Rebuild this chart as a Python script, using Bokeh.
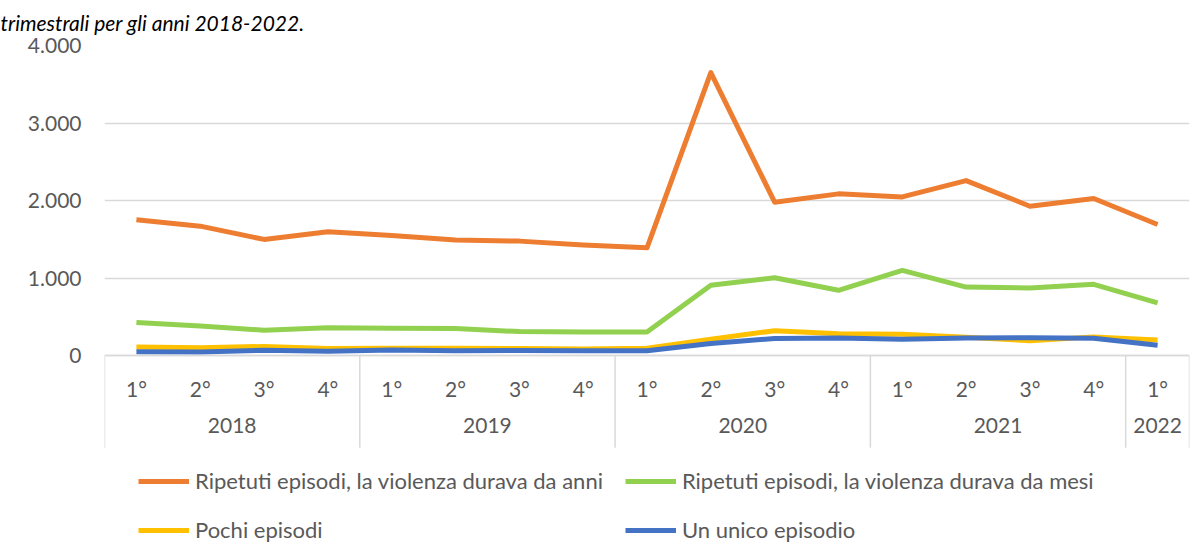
from bokeh.plotting import figure
from bokeh.models import (FactorRange, Range1d, FixedTicker, Legend, LegendItem,
                          CategoricalAxis, ColumnDataSource)
from bokeh.embed import file_html
from bokeh.resources import INLINE

# ---------------- data ----------------
years = ["2018", "2019", "2020", "2021", "2022"]
quarters_per_year = [4, 4, 4, 4, 1]
quarter_labels = ["1°", "2°", "3°", "4°"]

anni = [1753, 1672, 1501, 1599, 1552, 1492, 1479, 1428, 1393,
        3650, 1981, 2088, 2049, 2259, 1929, 2028, 1693]
mesi = [429, 386, 330, 364, 356, 352, 313, 309, 309,
        909, 1007, 845, 1102, 887, 875, 922, 682]
pochi = [115, 105, 122, 95, 100, 100, 95, 90, 100,
         215, 325, 285, 279, 240, 195, 245, 206]
unico = [52, 50, 73, 60, 75, 65, 70, 65, 65,
         160, 225, 232, 214, 230, 235, 228, 137]

series_names = ["Ripetuti episodi, la violenza durava da anni",
                "Ripetuti episodi, la violenza durava da mesi",
                "Pochi episodi",
                "Un unico episodio"]
series_values = [anni, mesi, pochi, unico]
series_colors = ["#ED7D31", "#92D050", "#FFC000", "#4472C4"]

y_ticks = [0, 1000, 2000, 3000, 4000]
y_tick_labels = ["0", "1.000", "2.000", "3.000", "4.000"]

title_text = "trimestrali per gli anni 2018-2022."

# ---------------- build ----------------
FONT = "Lato"
TXT = "#595959"
GRID = "#D9D9D9"
FS = "21px"
Y_BOTTOM = -2508      # frame reaches the canvas bottom (legend lives inside it)
SEP_END = -1183       # where the year separators stop

factors = [(y, quarter_labels[i]) for y, n in zip(years, quarters_per_year) for i in range(n)]

x_range = FactorRange(*factors, factor_padding=0, group_padding=0, range_padding=0)
p = figure(width=1200, height=550, x_range=x_range, y_range=Range1d(Y_BOTTOM, 4000),
           output_backend="svg", toolbar_location=None, x_axis_location=None,
           min_border_left=104, min_border_right=11, min_border_top=44, min_border_bottom=0)
p.outline_line_color = None
p.background_fill_color = "white"
p.border_fill_color = "white"
for g in p.xgrid:
    g.visible = False

# caption
p.title.text = title_text
p.title.text_font = FONT
p.title.text_font_size = FS
p.title.text_font_style = "italic"
p.title.text_color = "black"
p.title.align = "left"
p.title.offset = -104
p.title.standoff = 18
p.title.vertical_align = "top"

# y axis
p.yaxis.ticker = FixedTicker(ticks=y_ticks)
p.ygrid.ticker = FixedTicker(ticks=y_ticks)
p.yaxis.major_label_overrides = dict(zip(y_ticks, y_tick_labels))
p.yaxis.axis_line_color = None
p.yaxis.major_tick_line_color = None
p.yaxis.minor_tick_line_color = None
p.yaxis.major_label_standoff = 17
p.yaxis.major_label_text_font = FONT
p.yaxis.major_label_text_font_size = FS
p.yaxis.major_label_text_color = TXT
p.ygrid.grid_line_color = GRID
p.ygrid.grid_line_width = 1.5

# separators between year groups (derived from categories)
sep_x = [(y, "1°", -0.5) for y in years] + [(years[-1], quarter_labels[quarters_per_year[-1] - 1], 0.5)]
sep_src = ColumnDataSource(dict(x=sep_x, y0=[0] * len(sep_x), y1=[SEP_END] * len(sep_x)))
p.segment(x0="x", y0="y0", x1="x", y1="y1", source=sep_src, line_color=GRID, line_width=1.5)

# lines
renderers = []
for vals, col in zip(series_values, series_colors):
    src = ColumnDataSource(dict(x=factors, y=vals))
    r = p.line("x", "y", source=src, line_color=col, line_width=5, line_join="round")
    renderers.append(r)

# categorical x axis placed at y = 0
xaxis = CategoricalAxis(fixed_location=0, axis_line_color=GRID, axis_line_width=1.5,
                        major_tick_line_color=None, minor_tick_line_color=None,
                        separator_line_color=None,
                        major_label_standoff=14,
                        major_label_text_font=FONT, major_label_text_font_size=FS,
                        major_label_text_color=TXT,
                        group_text_font=FONT, group_text_font_size=FS,
                        group_text_color=TXT, group_text_font_style="normal")
p.add_layout(xaxis, "below")

# legend (two columns, row-major as in the original)
order = [0, 2, 1, 3]
legend = Legend(items=[LegendItem(label=series_names[i], renderers=[renderers[i]]) for i in order],
                ncols=2, location=(34, 7), glyph_width=51, glyph_height=24, label_height=24,
                spacing=22, padding=0, margin=0, label_standoff=6,
                border_line_color=None, background_fill_alpha=0,
                label_text_font=FONT, label_text_font_size="22px", label_text_color=TXT)
p.add_layout(legend, "center")

open("out.html", "w").write(file_html(p, INLINE))
